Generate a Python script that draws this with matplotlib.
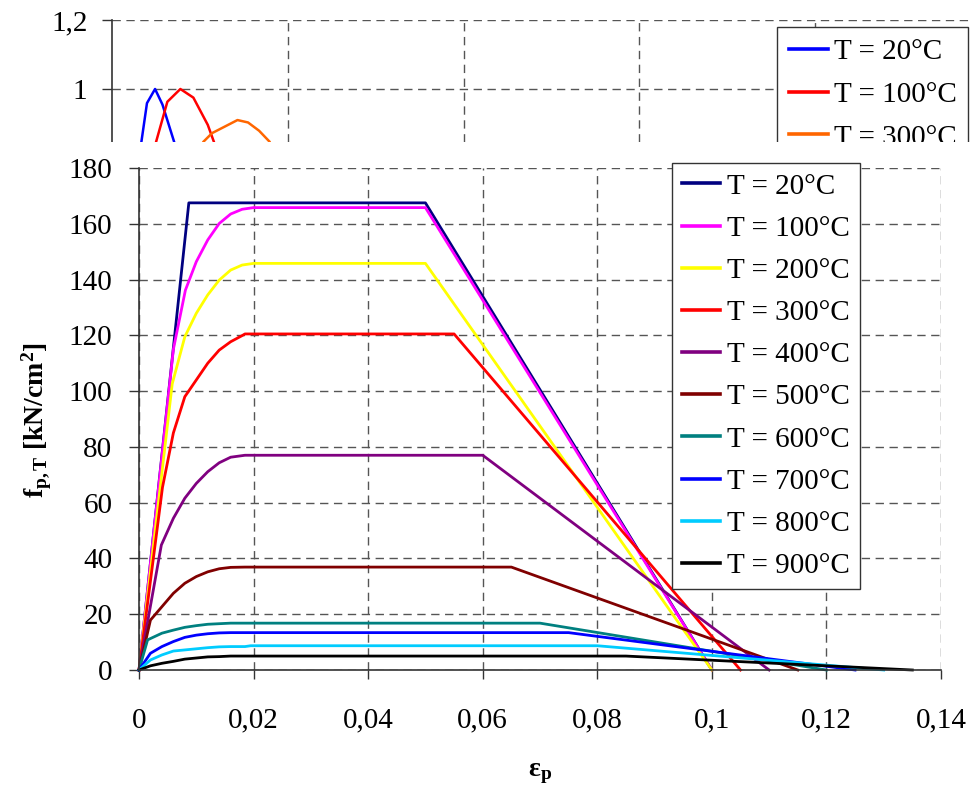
import matplotlib
matplotlib.use("Agg")
import matplotlib.pyplot as plt
from matplotlib.patches import Rectangle
from matplotlib.ticker import FuncFormatter

plt.rcParams['font.family'] = ['Liberation Serif', 'DejaVu Serif']
plt.rcParams['mathtext.fontset'] = 'custom'
plt.rcParams['mathtext.rm'] = 'Liberation Serif'
plt.rcParams['mathtext.bf'] = 'Liberation Serif:bold'
plt.rcParams['mathtext.it'] = 'Liberation Serif:italic'
plt.rcParams['font.size'] = 20

# ---------------- background (partially hidden) chart data ----------------
bg_labels = ["T = 20°C", "T = 100°C", "T = 300°C"]
bg_colors = ["#0000FF", "#FF0000", "#FF6600"]
bg_x_20 = [0.154, 0.199, 0.245, 0.287, 0.37]
bg_y_20 = [0.80, 0.959, 1.0, 0.955, 0.82]
bg_x_100 = [0.225, 0.315, 0.389, 0.463, 0.545, 0.613]
bg_y_100 = [0.80, 0.963, 1.0, 0.975, 0.896, 0.80]
bg_x_300 = [0.47, 0.520, 0.569, 0.714, 0.774, 0.837, 0.897, 0.93]
bg_y_300 = [0.80, 0.847, 0.872, 0.910, 0.903, 0.879, 0.847, 0.80]

# ---------------- main chart data ----------------
labels = ["T = 20°C", "T = 100°C", "T = 200°C", "T = 300°C", "T = 400°C",
          "T = 500°C", "T = 600°C", "T = 700°C", "T = 800°C", "T = 900°C"]
colors = ["#000080", "#FF00FF", "#FFFF00", "#FF0000", "#800080",
          "#800000", "#008080", "#0000FF", "#00CCFF", "#000000"]

eps_20 = [0, 0.0087, 0.05, 0.10]
f_20 = [0, 167.5, 167.5, 0]

eps_100 = [0, 0.006, 0.0081, 0.010, 0.012, 0.014, 0.016, 0.018, 0.020, 0.05, 0.10]
f_100 = [0, 115.0, 136.2, 146.4, 154.2, 160.1, 163.5, 165.2, 165.8, 165.8, 0]

eps_200 = [0, 0.0058, 0.008, 0.010, 0.012, 0.014, 0.016, 0.018, 0.020, 0.05, 0.10]
f_200 = [0, 102.6, 119.5, 127.9, 134.5, 139.8, 143.4, 145.2, 145.8, 145.8, 0]

eps_300 = [0, 0.0041, 0.006, 0.008, 0.010, 0.012, 0.014, 0.016, 0.018, 0.0185, 0.055, 0.105]
f_300 = [0, 65.5, 85.0, 98.0, 104.0, 110.0, 114.7, 117.7, 119.9, 120.5, 120.5, 0]

eps_400 = [0, 0.0039, 0.006, 0.008, 0.010, 0.012, 0.014, 0.016, 0.0185, 0.06, 0.11]
f_400 = [0, 44.8, 54.4, 61.6, 66.9, 71.1, 74.3, 76.3, 77.0, 77.0, 0]

eps_500 = [0, 0.002, 0.004, 0.006, 0.008, 0.010, 0.012, 0.014, 0.016, 0.0185, 0.065, 0.115]
f_500 = [0, 17.9, 22.7, 27.5, 31.1, 33.5, 35.2, 36.3, 36.8, 36.9, 36.9, 0]

eps_600 = [0, 0.0015, 0.004, 0.006, 0.008, 0.010, 0.012, 0.014, 0.016, 0.07, 0.12]
f_600 = [0, 10.8, 13.2, 14.3, 15.3, 15.9, 16.4, 16.6, 16.8, 16.8, 0]

eps_700 = [0, 0.002, 0.004, 0.006, 0.008, 0.010, 0.012, 0.014, 0.016, 0.075, 0.125]
f_700 = [0, 6.0, 8.4, 10.2, 11.7, 12.5, 13.0, 13.3, 13.4, 13.4, 0]

eps_800 = [0, 0.002, 0.004, 0.006, 0.008, 0.010, 0.012, 0.014, 0.016, 0.0185, 0.0195, 0.08, 0.13]
f_800 = [0, 3.6, 5.4, 6.8, 7.2, 7.6, 8.0, 8.3, 8.4, 8.4, 8.7, 8.7, 0]

eps_900 = [0, 0.002, 0.004, 0.006, 0.008, 0.010, 0.012, 0.014, 0.016, 0.085, 0.135]
f_900 = [0, 1.5, 2.4, 3.1, 3.9, 4.3, 4.7, 4.8, 5.0, 5.0, 0]

eps_all = [eps_20, eps_100, eps_200, eps_300, eps_400, eps_500, eps_600, eps_700, eps_800, eps_900]
f_all = [f_20, f_100, f_200, f_300, f_400, f_500, f_600, f_700, f_800, f_900]

xticks = [0, 0.02, 0.04, 0.06, 0.08, 0.10, 0.12, 0.14]
yticks = [0, 20, 40, 60, 80, 100, 120, 140, 160, 180]

W, H = 972, 786
fig = plt.figure(figsize=(W / 100, H / 100), dpi=100)

def fx(px):
    return px / W

def fy(py):
    return 1 - py / H

FS = 21
grid_kw = dict(color="#555555", linestyle=(0, (6, 4)), linewidth=1.0)

# ---------------- background axes ----------------
ax0 = fig.add_axes([fx(112), fy(142), fx(972 - 112), fy(20) - fy(142)])
ax0.set_zorder(0)
ax0.set_xlim(0, (972 - 112) / 175.75)
ax0.set_ylim(1 - (142 - 89) / 345.0, 1.2)
ax0.set_xticks([1, 2, 3, 4])
ax0.set_yticks([1.0, 1.2])
ax0.set_yticklabels(["1", "1,2"])
ax0.tick_params(axis='x', length=0, labelbottom=False)
ax0.tick_params(axis='y', direction='out', length=7.2, width=1, pad=10.5,
                color="#333333", labelsize=FS)
for s in ["top", "right", "bottom"]:
    ax0.spines[s].set_visible(False)
ax0.spines["left"].set_color("#333333")
ax0.spines["left"].set_linewidth(1.2)
ax0.grid(True, **grid_kw)
ax0.set_axisbelow(True)
for xs, ys, c, lab in zip([bg_x_20, bg_x_100, bg_x_300], [bg_y_20, bg_y_100, bg_y_300],
                          bg_colors, bg_labels):
    ax0.plot(xs, ys, color=c, lw=1.8, label=lab)
leg0 = ax0.legend(loc="upper left", bbox_to_anchor=(fx(777), fy(27)),
                  bbox_transform=fig.transFigure, frameon=True, fancybox=False,
                  edgecolor="#333333", framealpha=1, borderaxespad=0,
                  borderpad=0.4, handlelength=1.35, handletextpad=0.2,
                  labelspacing=0.56, fontsize=FS)
leg0.get_frame().set_linewidth(1.0)
for ln in leg0.get_lines():
    ln.set_linewidth(2.6)

# white cover for main chart
cover = Rectangle((0, 0), 1, fy(142), transform=fig.transFigure,
                  facecolor="white", edgecolor="none", zorder=1)
fig.add_artist(cover)

# ---------------- main axes ----------------
ax = fig.add_axes([fx(139), fy(670), fx(941 - 139), fy(168) - fy(670)])
ax.set_zorder(2)
ax.set_xlim(0, 0.14)
ax.set_ylim(0, 180)
ax.set_xticks(xticks)
ax.set_yticks(yticks)
ax.xaxis.set_major_formatter(FuncFormatter(
    lambda v, p: "0" if abs(v) < 1e-12 else ("%g" % round(v, 4)).replace(".", ",")))
ax.tick_params(axis='x', direction='out', length=6.5, width=1, pad=20.5,
               color="#333333", labelsize=FS)
ax.tick_params(axis='y', direction='out', length=7.2, width=1, pad=12,
               color="#333333", labelsize=FS)
for s in ["top", "right"]:
    ax.spines[s].set_visible(False)
for s in ["left", "bottom"]:
    ax.spines[s].set_color("#333333")
    ax.spines[s].set_linewidth(1.2)
ax.grid(True, **grid_kw)
ax.set_axisbelow(True)

for e, f, c, lab in zip(eps_all, f_all, colors, labels):
    ax.plot(e, f, color=c, lw=2.0, label=lab, clip_on=False)

leg = ax.legend(loc="upper left", bbox_to_anchor=(fx(672), fy(163)),
                bbox_transform=fig.transFigure, frameon=True, fancybox=False,
                edgecolor="#333333", framealpha=1, borderaxespad=0,
                borderpad=0.35, handlelength=1.3, handletextpad=0.22,
                labelspacing=0.54, fontsize=FS)
leg.get_frame().set_linewidth(1.0)
for ln in leg.get_lines():
    ln.set_linewidth(2.6)

fig.text(fx(37), fy(420), r"$\mathbf{f_{p,T}\ [kN/cm^{2}]}$", rotation=90,
         ha="center", va="center", fontsize=20)
fig.text(fx(540), fy(773), r"$\mathbf{ε_{p}}$", ha="center", va="center", fontsize=20)

fig.savefig("out.png", dpi=100)
